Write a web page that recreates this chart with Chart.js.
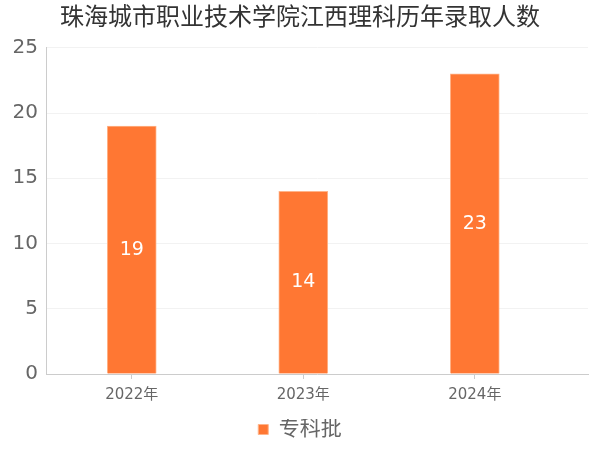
<!DOCTYPE html>
<html><head><meta charset="utf-8">
<script src="https://cdn.jsdelivr.net/npm/chart.js@4.4.0/dist/chart.umd.min.js"></script>
<style>html,body{margin:0;padding:0;background:#fff}#wrap{width:600px;height:450px}</style>
</head><body><div id="wrap"><canvas id="c" width="600" height="450"></canvas></div>
<script>
const categories = ['2022年', '2023年', '2024年'];
const seriesName = '专科批';
const seriesValues = [19, 14, 23];
const yTicks = [0, 5, 10, 15, 20, 25];
const titleText = '珠海城市职业技术学院江西理科历年录取人数';

const FONT = "'DejaVu Sans','Noto Sans CJK SC',sans-serif";

const labelPlugin = {
  id: 'barLabels',
  afterDatasetsDraw(chart) {
    const ctx = chart.ctx;
    const meta = chart.getDatasetMeta(0);
    ctx.save();
    ctx.fillStyle = '#fff';
    ctx.font = '19px ' + FONT;
    ctx.textAlign = 'center';
    ctx.textBaseline = 'middle';
    meta.data.forEach((bar, i) => {
      const mid = (bar.y + bar.base) / 2;
      ctx.fillText(String(seriesValues[i]), bar.x, mid);
    });
    ctx.restore();
  }
};

new Chart(document.getElementById('c'), {
  type: 'bar',
  data: {
    datasets: [{
      label: seriesName,
      data: seriesValues.map((v, i) => ({x: i, y: v})),
      backgroundColor: '#ff7733',
      borderColor: '#ffb48a',
      borderWidth: 1,
      barThickness: 49
    }]
  },
  options: {
    responsive: false,
    animation: false,
    devicePixelRatio: 1,
    layout: {padding: {left: 12, right: 12, top: 4, bottom: 0}},
    plugins: {
      title: {display: true, text: titleText, color: '#333', font: {family: FONT, size: 24, weight: 'normal'}, padding: {top: 0, bottom: 15}},
      legend: {
        position: 'bottom',
        labels: {color: '#666', font: {family: FONT, size: 21}, boxWidth: 10, boxHeight: 10, padding: 0, useBorderRadius: false}
      },
      tooltip: {enabled: false}
    },
    scales: {
      x: {
        type: 'linear',
        offset: false,
        min: -0.5,
        max: 2.66,
        afterBuildTicks(s) { s.ticks = categories.map((c, i) => ({value: i})); },
        afterFit(s) { s.height += 8; },
        ticks: {callback: (v) => categories[v], color: '#666', font: {family: FONT, size: 15}, autoSkip: false, maxRotation: 0, padding: 7},
        grid: {display: true, offset: false, drawOnChartArea: false, drawTicks: true, tickLength: 5, color: '#ccc'},
        border: {color: '#ccc'}
      },
      y: {
        min: 0, max: 25,
        afterBuildTicks(s) { s.ticks = yTicks.map(v => ({value: v})); },
        afterFit(s) { s.width = 34; },
        ticks: {color: '#666', font: {family: FONT, size: 20}, padding: 8},
        grid: {color: '#f2f2f2', drawTicks: false},
        border: {color: '#ccc'}
      }
    }
  },
  plugins: [labelPlugin]
});
</script></body></html>
